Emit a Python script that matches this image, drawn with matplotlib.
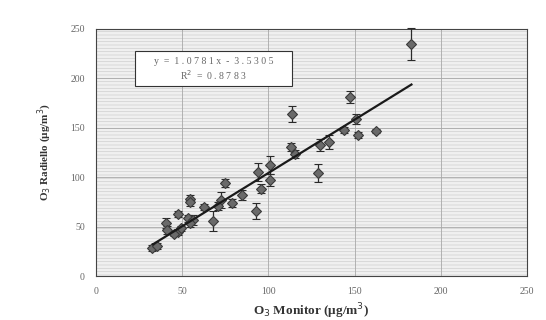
import numpy as np
import matplotlib.pyplot as plt
from matplotlib.patches import Rectangle

plt.rcParams['font.family'] = ['Liberation Serif', 'DejaVu Serif']
plt.rcParams['hatch.linewidth'] = 0.5

# O3 monitor vs Radiello values (ug/m3)
monitor = [182.5, 147.2, 113.9, 150.6, 144.0, 152.2, 162.3, 130.0, 135.0, 113.0,
           115.5, 129.0, 100.8, 93.8, 100.8, 95.8, 74.6, 92.7, 84.7, 78.6,
           72.6, 68.0, 70.6, 62.5, 54.4, 54.4, 47.4, 53.4, 56.5, 40.3,
           41.3, 47.4, 49.4, 54.4, 45.4, 32.3, 35.3]
radiello = [234.9, 181.0, 164.0, 158.5, 147.4, 142.3, 146.4, 133.0, 135.6, 130.5,
            123.8, 104.3, 112.0, 105.0, 97.0, 88.5, 94.2, 66.0, 81.8, 74.0,
            76.7, 56.0, 70.7, 70.0, 78.4, 75.0, 62.6, 58.2, 56.5, 53.2,
            46.4, 44.8, 48.1, 53.2, 43.0, 27.9, 30.3]
err = [16, 6, 8, 5, 3, 3, 2, 6, 7, 4,
       4, 9, 9, 9, 6, 5, 4, 8, 5, 4,
       8, 10, 4, 3, 4, 4, 3, 4, 5, 5,
       4, 3, 3, 4, 3, 3, 3]

slope = 1.0781
intercept = -3.5305
fit_x = [33, 183]

fig = plt.figure(figsize=(5.46, 3.2), dpi=100)
ax = fig.add_axes([0.176, 0.1375, 0.789, 0.772])

# patterned background like the old Excel plot area
ax.add_patch(Rectangle((0, 0), 1, 1, transform=ax.transAxes, facecolor='#f0f0f0',
                       edgecolor='#cfcfcf', hatch='-----', lw=0, zorder=0))

ax.set_xlim(0, 250)
ax.set_ylim(0, 250)
ax.set_xticks(np.arange(0, 251, 50))
ax.set_yticks(np.arange(0, 251, 50))
ax.grid(True, color='#a8a8a8', lw=0.6, zorder=1)
ax.set_axisbelow(True)

eb = ax.errorbar(monitor, radiello, yerr=err, fmt='D', ms=5.5, mfc='#6a6a6a', mec='#3a3a3a',
                 mew=0.8, ecolor='#2a2a2a', elinewidth=0.9, capsize=3, capthick=0.9, zorder=3)
for art in list(eb.lines[1]) + list(eb.lines[2]):
    art.set_clip_on(False)

fx = np.array(fit_x)
ax.plot(fx, slope * fx + intercept, color='#1a1a1a', lw=1.6, zorder=4)

# equation box
ax.add_patch(Rectangle((0.09, 0.769), 0.365, 0.142, transform=ax.transAxes,
                       facecolor='white', edgecolor='#333333', lw=0.8, zorder=5))
eq = 'y = 1.0781x - 3.5305'
r2 = 'R$^2$ = 0.8783'
ax.text(0.2725, 0.868, ' '.join(eq.replace(' ', '')).replace('=', ' = ').replace('-', ' - '),
        transform=ax.transAxes, ha='center', va='center', fontsize=7, color='#666666', zorder=6)
ax.text(0.2725, 0.812, 'R$^2$  =  0 . 8 7 8 3', transform=ax.transAxes,
        ha='center', va='center', fontsize=7, color='#666666', zorder=6)

for s in ax.spines.values():
    s.set_color('#444444')
    s.set_linewidth(0.8)
ax.tick_params(length=0, labelsize=7, colors='#666666', pad=8)

ax.set_xlabel('O$_3$ Monitor (µg/m$^3$)', fontsize=9.5, fontweight='bold', color='#333333')
ax.set_ylabel('O$_3$ Radiello (µg/m$^3$)', fontsize=8, fontweight='bold', color='#333333',
              labelpad=12)

fig.savefig('out.png', dpi=100)
